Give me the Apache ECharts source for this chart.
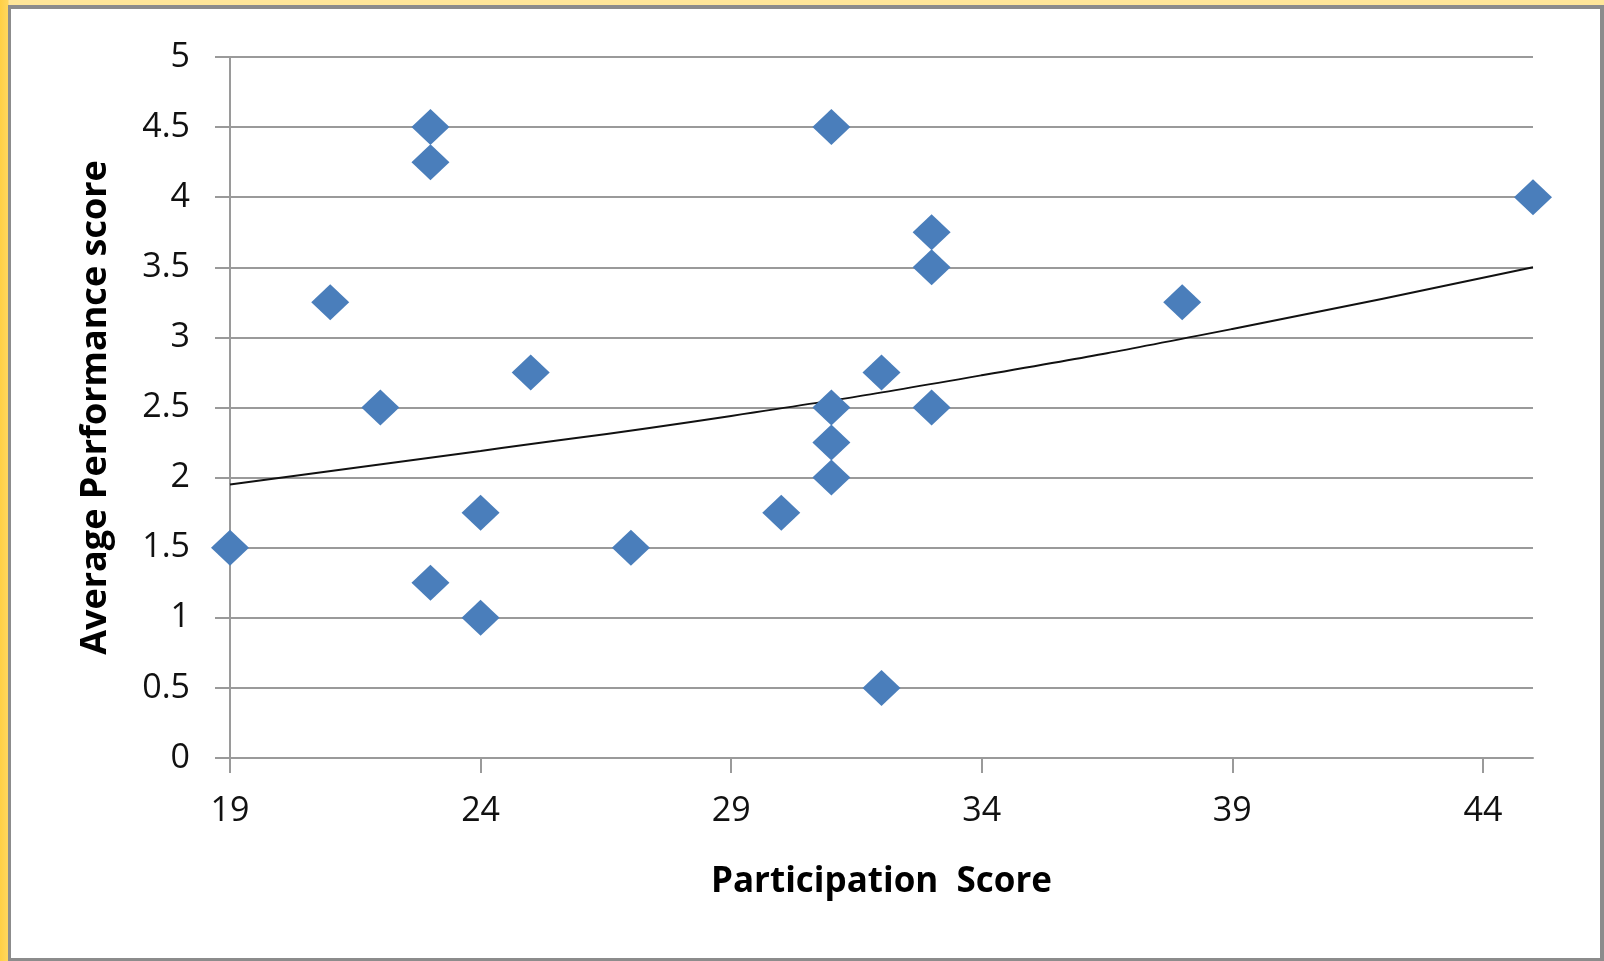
<!DOCTYPE html>
<html>
<head>
<meta charset="utf-8">
<script src="https://cdn.jsdelivr.net/npm/echarts@6/dist/echarts.min.js"></script>
<style>
  html, body { margin: 0; padding: 0; width: 1604px; height: 961px; overflow: hidden; }
  body {
    background:
      linear-gradient(to right, #FFCF45 0px, #FFD75E 8px, rgba(255,230,150,0) 9px),
      #FFE699;
  }
  #frame {
    position: absolute; left: 8px; top: 5px; width: 1589px; height: 949px;
    background: #FFFFFF; border-style: solid; border-color: #8C8C8C;
    border-width: 4px 4px 3px 3px;
  }
  #chart { position: absolute; left: 0; top: 0; width: 1604px; height: 961px; }
</style>
</head>
<body>
<div id="frame"></div>
<div id="chart"></div>
<script>
// Data
const participation = [19, 21, 22, 23, 23, 23, 24, 24, 25, 27, 30, 31, 31, 31, 31, 32, 32, 33, 33, 33, 38, 45];
const performance  = [1.5, 3.25, 2.5, 4.5, 4.25, 1.25, 1.75, 1.0, 2.75, 1.5, 1.75, 4.5, 2.5, 2.25, 2.0, 2.75, 0.5, 3.75, 3.5, 2.5, 3.25, 4.0];
// Trendline (Excel exponential trendline) read at several x positions
const trendX = [19, 24, 29, 34, 39, 45];
const trendY = [1.95, 2.19, 2.44, 2.73, 3.06, 3.50];
const xTicks = [19, 24, 29, 34, 39, 44];
const xName = 'Participation  Score';
const yName = 'Average Performance score';

const points = participation.map((x, i) => [x, performance[i]]);
const trend = trendX.map((x, i) => [x, trendY[i]]);

const chart = echarts.init(document.getElementById('chart'), null, { renderer: 'canvas' });
const axisGray = '#9A9A9A';
const font = '"Open Sans", "DejaVu Sans", sans-serif';
chart.setOption({
  backgroundColor: 'transparent',
  animation: false,
  grid: { left: 230, top: 57, right: 71, bottom: 203, containLabel: false },
  xAxis: {
    type: 'value', min: 19, max: 45,
    name: xName, nameLocation: 'middle', nameGap: 107,
    nameTextStyle: { fontFamily: font, fontSize: 35, fontWeight: 'bold', color: '#000' },
    axisLine: { show: true, lineStyle: { color: axisGray, width: 2 } },
    axisTick: { show: true, inside: false, length: 15, customValues: xTicks, lineStyle: { color: axisGray, width: 2 } },
    axisLabel: { customValues: xTicks, margin: 36, fontFamily: font, fontSize: 34, color: '#111' },
    splitLine: { show: false }
  },
  yAxis: {
    type: 'value', min: 0, max: 5, interval: 0.5,
    name: yName, nameLocation: 'middle', nameGap: 116, nameRotate: 90,
    nameTextStyle: { fontFamily: font, fontSize: 36, fontWeight: 'bold', color: '#000' },
    axisLine: { show: true, lineStyle: { color: axisGray, width: 2 } },
    axisTick: { show: true, inside: false, length: 15, lineStyle: { color: axisGray, width: 2 } },
    axisLabel: { margin: 40, fontFamily: font, fontSize: 34, color: '#111' },
    splitLine: { show: true, lineStyle: { color: axisGray, width: 2 } }
  },
  series: [
    {
      type: 'line', data: trend, smooth: true, symbol: 'none', z: 3,
      lineStyle: { color: '#111111', width: 2 }
    },
    {
      type: 'scatter', data: points, symbol: 'diamond', symbolSize: [38, 36], z: 4,
      itemStyle: { color: '#4A7EBB', opacity: 1 }
    }
  ]
});
</script>
</body>
</html>
